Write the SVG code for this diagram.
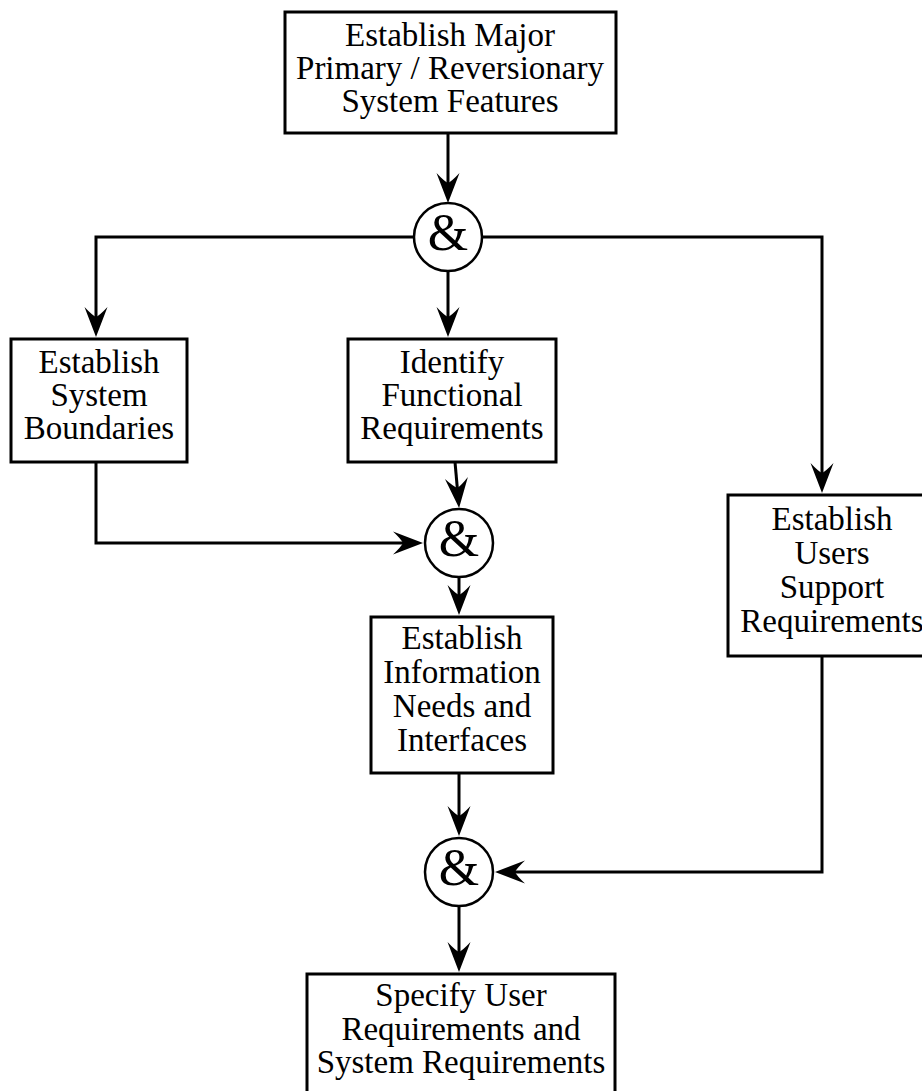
<svg xmlns="http://www.w3.org/2000/svg" width="922" height="1091" viewBox="0 0 922 1091">
  <style>
    .box { fill: #fff; stroke: #000; stroke-width: 3; }
    .gate { fill: #fff; stroke: #000; stroke-width: 2.5; }
    .lbl { font-family: "Liberation Serif", "Times New Roman", serif; font-size: 33px; fill: #000; text-anchor: middle; }
    .amp { font-family: "Liberation Serif", "Times New Roman", serif; font-size: 52px; fill: #000; text-anchor: middle; }
    .wire { fill: none; stroke: #000; stroke-width: 3; marker-end: url(#head); }
  </style>
  <defs>
    <!-- notched arrowhead; the wire stops 10px short of the tip -->
    <marker id="head" markerUnits="userSpaceOnUse" viewBox="-32 -13 34 26" refX="-10" refY="0" markerWidth="34" markerHeight="26" orient="auto">
      <path d="M0,0 L-30,-11.5 Q-22,-4 -20,0 Q-22,4 -30,11.5 Z" fill="#000"/>
    </marker>
  </defs>

  <rect width="922" height="1091" fill="#fff"/>

  <g id="connectors">
    <path class="wire" d="M448,133 V193"/>
    <path class="wire" d="M414,237 H96 V327"/>
    <path class="wire" d="M448,271 V327"/>
    <path class="wire" d="M482,237 H822 V483"/>
    <path class="wire" d="M455,462 L458.2,498"/>
    <path class="wire" d="M96,462 V543 H413"/>
    <path class="wire" d="M459,577 V605"/>
    <path class="wire" d="M459,773 V826"/>
    <path class="wire" d="M822,656 V872 H505"/>
    <path class="wire" d="M459,906 V962"/>
  </g>

  <g id="n-major">
    <rect class="box" x="285" y="12" width="331" height="121"/>
    <text class="lbl" x="450" y="46">Establish Major</text>
    <text class="lbl" x="450" y="79">Primary / Reversionary</text>
    <text class="lbl" x="450" y="112">System Features</text>
  </g>

  <g id="and-1">
    <circle class="gate" cx="448" cy="237" r="34"/>
    <text class="amp" x="448" y="250">&amp;</text>
  </g>

  <g id="n-boundaries">
    <rect class="box" x="11" y="339" width="176" height="123"/>
    <text class="lbl" x="99" y="373">Establish</text>
    <text class="lbl" x="99" y="406">System</text>
    <text class="lbl" x="99" y="439">Boundaries</text>
  </g>

  <g id="n-functional">
    <rect class="box" x="348" y="339" width="208" height="123"/>
    <text class="lbl" x="452" y="373">Identify</text>
    <text class="lbl" x="452" y="406">Functional</text>
    <text class="lbl" x="452" y="439">Requirements</text>
  </g>

  <g id="n-users">
    <rect class="box" x="728" y="495" width="208" height="161"/>
    <text class="lbl" x="832" y="530">Establish</text>
    <text class="lbl" x="832" y="564">Users</text>
    <text class="lbl" x="832" y="598">Support</text>
    <text class="lbl" x="832" y="632">Requirements</text>
  </g>

  <g id="and-2">
    <circle class="gate" cx="459" cy="543" r="34"/>
    <text class="amp" x="459" y="556">&amp;</text>
  </g>

  <g id="n-information">
    <rect class="box" x="371" y="617" width="182" height="156"/>
    <text class="lbl" x="462" y="649">Establish</text>
    <text class="lbl" x="462" y="683">Information</text>
    <text class="lbl" x="462" y="717">Needs and</text>
    <text class="lbl" x="462" y="751">Interfaces</text>
  </g>

  <g id="and-3">
    <circle class="gate" cx="459" cy="872" r="34"/>
    <text class="amp" x="459" y="885">&amp;</text>
  </g>

  <g id="n-specify">
    <rect class="box" x="307" y="974" width="308" height="130"/>
    <text class="lbl" x="461" y="1006">Specify User</text>
    <text class="lbl" x="461" y="1040">Requirements and</text>
    <text class="lbl" x="461" y="1073">System Requirements</text>
  </g>
</svg>
